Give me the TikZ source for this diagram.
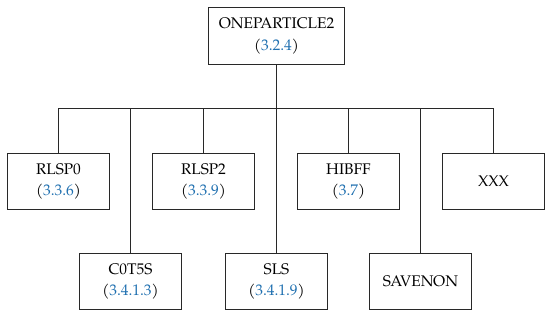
\documentclass[tikz,border=0pt]{standalone}
\usepackage{fontspec}
\setmainfont{TeX Gyre Pagella}
\definecolor{refblue}{RGB}{32,112,176}
\definecolor{linegray}{RGB}{40,40,40}
\tikzset{
  box/.style={draw=linegray, line width=1pt, rectangle, minimum height=56pt, minimum width=102pt, align=center, inner sep=0pt, font=\fontsize{15.4}{21.5}\selectfont},
  conn/.style={draw=linegray, line width=1pt},
}
\newcommand{\refn}[1]{(\textcolor{refblue}{#1})}
\begin{document}
\begin{tikzpicture}[x=1pt,y=-1pt]
\useasboundingbox (0,0) rectangle (550,318);
\node[box, minimum width=136pt, minimum height=57pt] (root) at (276.5,36) {ONEPARTICLE2\\\refn{3.2.4}};
\node[box] (rlsp0) at (58.5,181.5) {RLSP0\\\refn{3.3.6}};
\node[box] (rlsp2) at (203.5,181.5) {RLSP2\\\refn{3.3.9}};
\node[box] (hibff) at (348.5,181.5) {HIBFF\\\refn{3.7}};
\node[box] (xxx) at (493.5,181.5) {XXX};
\node[box] (c0t5s) at (130.5,281.5) {C0T5S\\\refn{3.4.1.3}};
\node[box] (sls) at (276.5,281.5) {SLS\\\refn{3.4.1.9}};
\node[box] (savenon) at (420.5,281.5) {SAVENON};
\coordinate (busL) at (58.5,108.5);
\coordinate (busR) at (493.5,108.5);
\coordinate (busC) at (276.5,108.5);
\draw[conn] (root.south) -- (busC);
\draw[conn] (busL) -- (busR);
\draw[conn] (rlsp0.north) -- (rlsp0.north |- busL);
\draw[conn] (rlsp2.north) -- (rlsp2.north |- busL);
\draw[conn] (hibff.north) -- (hibff.north |- busL);
\draw[conn] (xxx.north) -- (xxx.north |- busL);
\draw[conn] (c0t5s.north) -- (c0t5s.north |- busL);
\draw[conn] (sls.north) -- (sls.north |- busL);
\draw[conn] (savenon.north) -- (savenon.north |- busL);
\end{tikzpicture}
\end{document}
